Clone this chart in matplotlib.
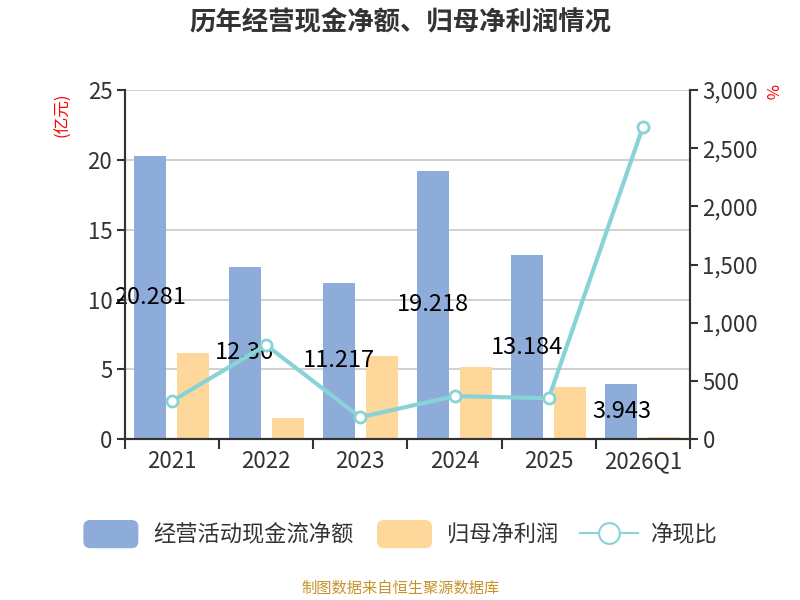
import matplotlib.pyplot as plt
import numpy as np
from matplotlib.patches import FancyBboxPatch
from matplotlib.lines import Line2D
from matplotlib.legend_handler import HandlerPatch
from matplotlib.ticker import FuncFormatter

plt.rcParams['font.family'] = ['Noto Sans CJK SC', 'DejaVu Sans']

years = ['2021', '2022', '2023', '2024', '2025', '2026Q1']
cash_flow = [20.281, 12.36, 11.217, 19.218, 13.184, 3.943]
net_profit = [6.16, 1.53, 5.93, 5.19, 3.745, 0.18]
ratio = [327, 808, 189, 370, 352, 2683]

blue = '#8eacda'
orange = '#fed89b'
teal = '#88d3d6'
dark = '#333333'


class RoundHandler(HandlerPatch):
    def create_artists(self, legend, orig_handle, xdescent, ydescent,
                       width, height, fontsize, trans):
        p = FancyBboxPatch((-xdescent + 1, -ydescent - 3), width - 2, height + 6,
                           boxstyle='round,pad=0,rounding_size=5',
                           facecolor=orig_handle.get_facecolor(),
                           edgecolor='none', transform=trans)
        return [p]


fig = plt.figure(figsize=(8, 6), dpi=100)
ax = fig.add_axes([0.156, 0.268, 0.7065, 0.582])
ax2 = ax.twinx()

x = np.arange(len(years))
w = 0.34
ax.bar(x - 0.228, cash_flow, w, color=blue, zorder=2)
ax.bar(x + 0.228, net_profit, w, color=orange, zorder=2)

for xi, v in zip(x, cash_flow):
    ax.text(xi - 0.228, v / 2, '{:g}'.format(v), ha='center', va='center',
            fontsize=17, color='black', zorder=5)

ax2.plot(x, ratio, color=teal, lw=3, marker='o', ms=8,
         markerfacecolor='white', markeredgecolor=teal, markeredgewidth=2, zorder=4)

ax.set_xlim(-0.5, len(years) - 0.5)
ax.set_ylim(0, 25)
ax2.set_ylim(0, 3000)
ax.set_yticks([0, 5, 10, 15, 20, 25])
ax2.set_yticks(range(0, 3001, 500))
ax2.yaxis.set_major_formatter(FuncFormatter(lambda v, p: '{:,.0f}'.format(v)))

ax.set_xticks(x)
ax.set_xticklabels(years)
ax.set_xticks(np.arange(-0.5, len(years), 1), minor=True)
ax.tick_params(axis='x', which='major', length=0, pad=8, labelsize=16, labelcolor=dark)
ax.tick_params(axis='x', which='minor', length=7, width=1.5, color=dark)
ax.tick_params(axis='y', length=6, width=1.5, color=dark, labelsize=16, labelcolor=dark, pad=3)
ax2.tick_params(axis='y', length=6, width=1.5, color=dark, labelsize=16, labelcolor=dark, pad=3)

ax.grid(axis='y', color='#c8c8c8', lw=1.2, zorder=0)
for a in (ax, ax2):
    a.spines['top'].set_visible(False)
    for s in ('left', 'right', 'bottom'):
        a.spines[s].set_color(dark)
        a.spines[s].set_linewidth(1.5)

fig.text(0.078, 0.808, '(亿元)', color='red', rotation=90, fontsize=12,
         ha='center', va='center')
fig.text(0.962, 0.848, '%', color='red', rotation=-90, fontsize=12,
         ha='center', va='center')

fig.text(0.5, 0.962, '历年经营现金净额、归母净利润情况', ha='center', va='center',
         fontsize=19, fontweight='bold', color=dark)

handles = [plt.Rectangle((0, 0), 1, 1, facecolor=blue),
           plt.Rectangle((0, 0), 1, 1, facecolor=orange),
           Line2D([], [], color=teal, lw=1.5, marker='o', ms=15,
                  markerfacecolor='white', markeredgecolor=teal, markeredgewidth=1.5)]
labels = ['经营活动现金流净额', '归母净利润', '净现比']
fig.legend(handles, labels, loc='center', bbox_to_anchor=(0.5, 0.108),
           ncol=3, frameon=False, fontsize=16, handlelength=2.6, handleheight=1.0,
           columnspacing=1.0, handletextpad=0.6, labelcolor=dark,
           handler_map={plt.Rectangle: RoundHandler()})

fig.text(0.5, 0.02, '制图数据来自恒生聚源数据库', ha='center', va='center',
         fontsize=11, color='#c8922a')

fig.savefig('out.png', dpi=100)
